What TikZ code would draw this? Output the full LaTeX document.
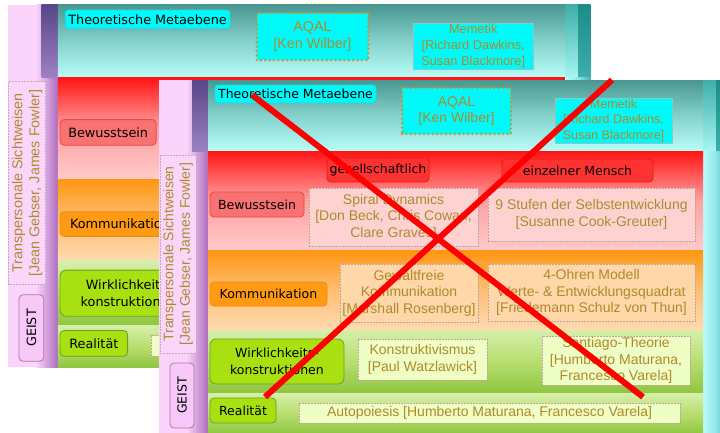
\documentclass[tikz,border=0pt]{standalone}
\usepackage{fontspec}
\setmainfont{Liberation Sans}
\newfontfamily\lblfont{DejaVu Sans}
\definecolor{goldtxt}{HTML}{AE8A2C}
\definecolor{dotgold}{HTML}{C8962A}
\definecolor{pinkcol}{HTML}{FAD4FA}
\definecolor{mauve}{HTML}{AC6CBC}
\definecolor{purpdark}{HTML}{584686}
\definecolor{purplight}{HTML}{9C82C2}
\definecolor{tealtop}{HTML}{4A9690}
\definecolor{tealmid}{HTML}{84D2CC}
\definecolor{tealbot}{HTML}{BAFCF8}
\definecolor{redtop}{HTML}{FF1414}
\definecolor{redmid}{HTML}{FFA0A0}
\definecolor{redbot}{HTML}{FFCACA}
\definecolor{ortop}{HTML}{FF9610}
\definecolor{ormid}{HTML}{FFBE74}
\definecolor{orbot}{HTML}{FFDAB0}
\definecolor{grtop}{HTML}{D6EFAA}
\definecolor{grmid}{HTML}{B8DE70}
\definecolor{grbot}{HTML}{8EC63E}
\definecolor{cyanfill}{HTML}{00FAFA}
\definecolor{theoborder}{HTML}{30D0E0}
\definecolor{memeborder}{HTML}{8CC8C8}
\definecolor{boxgray}{HTML}{B8A8A0}
\definecolor{redlbl}{HTML}{FF3232}
\definecolor{redlbldraw}{HTML}{E81818}
\definecolor{bewfill}{HTML}{F87272}
\definecolor{bewdraw}{HTML}{E84848}
\definecolor{orlbl}{HTML}{FF9A12}
\definecolor{orlbldraw}{HTML}{E88A18}
\definecolor{limefill}{HTML}{A8E012}
\definecolor{limedraw}{HTML}{6E9E28}
\definecolor{pinkbox}{HTML}{FFD2D2}
\definecolor{peachbox}{HTML}{FFD7A8}
\definecolor{lightgreenbox}{HTML}{EFFEC4}
\definecolor{transfill}{HTML}{FBD6FB}
\definecolor{transdraw}{HTML}{C8A8C0}
\definecolor{geistfill}{HTML}{F8C8F8}
\definecolor{geistdraw}{HTML}{A87898}
\definecolor{barlighttop}{HTML}{40AEA8}
\definecolor{barlightbot}{HTML}{A6F6F4}
\definecolor{bardarktop}{HTML}{1C8C88}
\definecolor{bardarkbot}{HTML}{3CB0AC}
\definecolor{barlowleft}{HTML}{BCFBFB}
\definecolor{barlowmid}{HTML}{8EE8E8}
\definecolor{barlowright}{HTML}{48B0B0}
\definecolor{xred}{HTML}{FF0000}

\tikzset{
  lbl/.style={font=\lblfont\fontsize{12.5}{16.5}\selectfont, text=black, align=center,
              inner sep=0pt, rounded corners=4pt, line width=0.8pt},
  ctext/.style={font=\fontsize{14}{16.6}\selectfont, text=goldtxt, align=center, inner sep=0pt},
  cbox/.style={ctext, draw=boxgray, line width=0.7pt, dash pattern=on 2pt off 1pt},
  bx/.style 2 args={minimum width=#1pt, minimum height=#2pt},
  redx/.style={draw=xred, line width=6pt},
}

% bands and the labels that show on both slides
\newcommand\drawslidebase[1]{%
  % left column
  \fill[pinkcol] (159,80) rectangle (187,434);
  \shade[left color=pinkcol, right color=mauve] (186.5,80) rectangle (208,434);
  \shade[top color=purpdark, bottom color=purplight] (192,80) rectangle (208,151);
  % top band
  \shade[top color=tealtop, bottom color=tealbot, middle color=tealmid] (208,80) rectangle (703,151);
  % right bar
  \shade[top color=barlighttop, bottom color=barlightbot] (703,80) rectangle (728,151);
  \shade[top color=bardarktop, bottom color=bardarkbot] (716,80) rectangle (728,151);
  \shade[left color=barlowleft, right color=barlowright, middle color=barlowmid] (703,151) rectangle (728,434);
  % bands
  \shade[top color=redtop, bottom color=redbot, middle color=redmid] (208,151) rectangle (703,250);
  \shade[top color=ortop, bottom color=orbot, middle color=ormid] (208,250) rectangle (703,330);
  \shade[top color=grtop, bottom color=grbot, middle color=grmid] (208,330) rectangle (703,393);
  \shade[top color=grtop, bottom color=grbot, middle color=grmid] (208,393) rectangle (703,434);
  % top row
  \node[lbl, fill=cyanfill, draw=theoborder, rounded corners=3pt, bx={161}{18}] (#1theo) at (295.5,94) {Theoretische Metaebene};
  \node[ctext, fill=cyanfill, draw=dotgold, line width=2.6pt, dash pattern=on 0pt off 4.4pt, line cap=round, bx={109}{46}] (#1aqal) at (456.5,111) {AQAL\\{[}Ken Wilber]};
  \node[ctext, font=\fontsize{12.5}{15.6}\selectfont, fill=cyanfill, draw=memeborder, line width=0.6pt, bx={117}{45}] (#1meme) at (613.5,120.5) {Memetik\\{[}Richard Dawkins,\\Susan Blackmore]};
  % row labels
  \node[lbl, fill=bewfill, draw=bewdraw, bx={94}{25}] (#1bew) at (257,204.5) {Bewusstsein};
  \node[lbl, fill=orlbl, draw=orlbldraw, bx={117}{24}] (#1komm) at (268.5,294) {Kommunikation};
  \node[lbl, fill=limefill, draw=limedraw, rounded corners=6pt, bx={134}{45}] (#1wirk) at (277,361.5) {Wirklichkeits-\\konstruktionen};
  \node[lbl, fill=limefill, draw=limedraw, bx={66}{25}] (#1real) at (243,410.5) {Realität};
  % left column boxes
  \node[ctext, fill=transfill, draw=transdraw, line width=0.7pt, dash pattern=on 2pt off 1pt, rotate=90, bx={198}{36}] (#1trans) at (178,254) {Transpersonale Sichtweisen\\{[}Jean Gebser, James Fowler]};
  \node[lbl, fill=geistfill, draw=geistdraw, rotate=90, bx={65}{24}] (#1geist) at (182,395.5) {GEIST};
}

% the content that only shows on the front slide
\newcommand\drawslidecontent[1]{%
  \node[lbl, fill=redlbl, draw=redlbldraw, bx={102}{24}] (#1ges) at (378,170) {gesellschaftlich};
  \node[lbl, fill=redlbl, draw=redlbldraw, bx={151}{23}] (#1einz) at (577.5,170.5) {einzelner Mensch};
  \node[cbox, fill=pinkbox, bx={169}{58}] (#1spiral) at (393.5,217) {Spiral Dynamics\\{[}Don Beck, Chris Cowan,\\Clare Graves]};
  \node[cbox, fill=pinkbox, bx={207}{53}] (#1neun) at (591.5,214.5) {9 Stufen der Selbstentwicklung\\{[}Susanne Cook-Greuter]};
  \node[cbox, fill=peachbox, bx={138}{58}] (#1gewalt) at (409,293) {Gewaltfreie\\Kommunikation\\{[}Marshall Rosenberg]};
  \node[cbox, fill=peachbox, bx={207}{57}] (#1vier) at (591.5,292.5) {4-Ohren Modell\\Werte- \& Entwicklungsquadrat\\{[}Friedemann Schulz von Thun]};
  \node[cbox, fill=lightgreenbox, bx={129}{41}] (#1konstr) at (422.5,359.5) {Konstruktivismus\\{[}Paul Watzlawick]};
  \node[cbox, fill=lightgreenbox, bx={148}{49}] (#1sant) at (616,360.5) {Santiago-Theorie\\{[}Humberto Maturana,\\Francesco Varela]};
  \node[cbox, fill=lightgreenbox, bx={381}{20}] (#1auto) at (489.5,413) {Autopoiesis [Humberto Maturana, Francesco Varela]};
}

\begin{document}
\begin{tikzpicture}[x=1pt, y=-1pt]
  \useasboundingbox (0,0) rectangle (720,432);
  \fill[white] (0,0) rectangle (720,432);
  \clip (0,0) rectangle (720,432);
  % back slide (only its uncovered parts carry text)
  \begin{scope}[shift={(-155,-77)}, scale=1.024, transform shape]
    \drawslidebase{b}
    \node[cbox, fill=lightgreenbox, bx={381}{20}] (bauto) at (489.5,413) {};
  \end{scope}
  % front slide
  \drawslidebase{f}
  \drawslidecontent{f}
  % red cross
  \coordinate (xa) at (252,95);
  \coordinate (xb) at (643,397);
  \coordinate (xc) at (612,80);
  \coordinate (xd) at (265,397);
  \draw[redx] (xa) -- (xb);
  \draw[redx] (xc) -- (xd);
\end{tikzpicture}
\end{document}
